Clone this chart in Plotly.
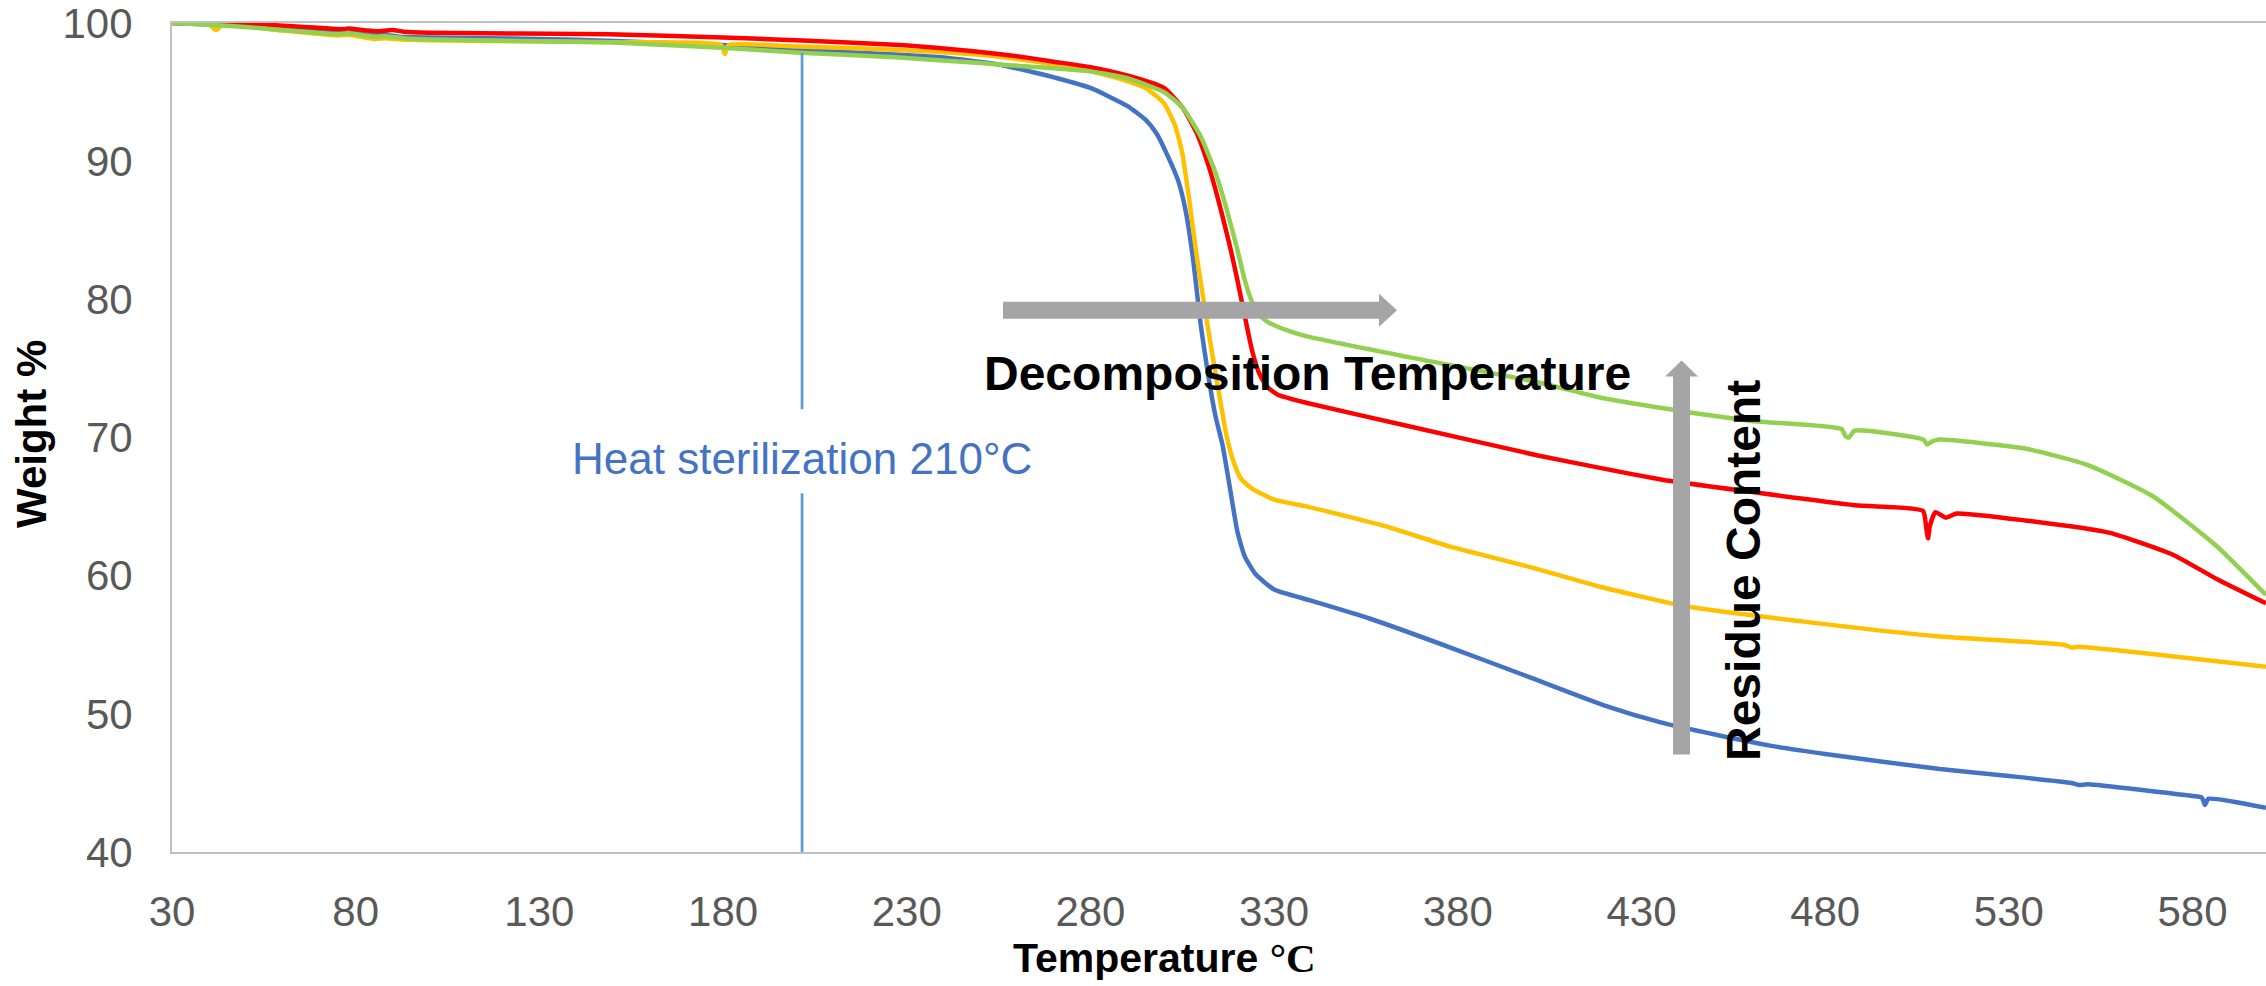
import plotly.graph_objects as go

# ---------------- data ----------------
blue_t = [30, 45, 60, 75, 80, 85, 88, 92, 100, 130, 150, 180, 201, 228, 240, 255, 265, 271, 280, 290,
          295, 298, 301, 304, 306, 308, 310, 312, 314, 316, 318, 320, 322, 325, 330, 340, 356, 380,
          400, 420, 435, 450, 465, 480, 511.2, 530, 547, 549, 551.6, 580, 582.5, 583.4, 584.3, 600]
blue_w = [100, 99.85, 99.6, 99.3, 99.25, 99.1, 99.15, 99.0, 98.95, 98.85, 98.7, 98.4, 98.05, 97.7, 97.5,
          97.0, 96.4, 96.0, 95.3, 94.0, 93.0, 92.0, 90.4, 88.5, 86.3, 82.8, 78.2, 74.6, 71.6, 69.4,
          66.3, 63.2, 61.4, 60.1, 59.0, 58.2, 56.9, 54.6, 52.6, 50.6, 49.4, 48.5, 47.7, 47.1, 46.0,
          45.5, 45.0, 44.85, 44.9, 44.05, 43.95, 43.4, 43.85, 43.2]

yellow_t = [30, 40, 42, 44, 60, 75, 78, 85, 88, 93, 100, 149, 179.5, 180.5, 181.5, 200, 228, 250, 260,
            270, 280, 290, 295, 300, 303, 305, 307, 309, 311, 313, 315, 317, 319, 321, 324, 330, 339,
            360, 378, 400, 418.7, 441.8, 476.4, 511.2, 545, 547, 549, 600]
yellow_w = [100, 99.9, 99.5, 99.9, 99.45, 99.1, 99.15, 98.85, 98.9, 98.8, 98.75, 98.6, 98.4, 97.75,
            98.4, 98.3, 98.05, 97.7, 97.4, 97.0, 96.5, 95.8, 95.3, 94.2, 92.6, 90.6, 87.0, 83.0, 79.6,
            76.3, 73.2, 70.2, 68.2, 67.0, 66.3, 65.5, 65.0, 63.6, 62.1, 60.6, 59.2, 57.8, 56.6, 55.6,
            55.0, 54.8, 54.85, 53.4]

red_t = [30, 50, 70, 76, 78, 83, 86, 90, 93, 100, 149, 180, 200, 228, 250, 260, 270, 280, 290, 300,
         305, 309, 312, 315, 318, 320, 322, 324, 326, 328, 331, 339, 367, 401.8, 418.7, 436.4,
         441.8, 488, 506.6, 507.5, 508, 508.5, 510, 512.8, 515.8, 534.4, 557.5, 574.8, 586.3, 600]
red_w = [100, 99.95, 99.65, 99.55, 99.6, 99.45, 99.4, 99.5, 99.37, 99.3, 99.18, 98.95, 98.75, 98.4,
         97.9, 97.6, 97.2, 96.8, 96.2, 95.3, 93.9, 92.0, 89.8, 87.0, 83.8, 81.4, 78.8, 76.3, 74.6,
         73.7, 73.1, 72.5, 70.8, 68.7, 67.8, 66.9, 66.7, 65.1, 64.7, 63.5, 62.7, 63.6, 64.6, 64.2,
         64.5, 64.0, 63.1, 61.5, 59.8, 58.0]

green_t = [30, 45, 60, 75, 78, 85, 88, 93, 100, 149, 180, 201, 228, 250, 260, 280, 290, 300, 305, 310,
           314, 317, 320, 322, 324, 326, 328, 333, 339.2, 367, 401.8, 418.7, 436.4, 460, 484.5, 485.5,
           486.5, 488, 506.8, 507.7, 509, 511, 534.4, 551.5, 568.9, 586.3, 600]
green_w = [100, 99.8, 99.5, 99.2, 99.25, 99.0, 99.05, 98.9, 98.8, 98.6, 98.2, 97.85, 97.5, 97.1, 96.9,
           96.5, 96.0, 95.0, 93.9, 91.8, 89.2, 86.6, 83.6, 81.4, 79.8, 78.9, 78.4, 77.8, 77.3, 75.8,
           74.0, 72.9, 72.1, 71.2, 70.6, 70.1, 70.0, 70.5, 69.85, 69.5, 69.7, 69.85, 69.2, 68.0, 65.8,
           62.2, 58.6]

x_ticks = [30, 80, 130, 180, 230, 280, 330, 380, 430, 480, 530, 580]
y_ticks = [40, 50, 60, 70, 80, 90, 100]

steril_x = 201.5
steril_top = 97.85
steril_gap = (65.97, 72.05)
steril_label_y = 68.45

# ---------------- layout constants ----------------
W, H = 2266, 986
PL, PR, PT, PB = 172, 2266, 23, 852
FONT = "Arial, Liberation Sans, sans-serif"

def px_x(px):
    return (px - PL) / (PR - PL)

def px_y(py):
    return (PB - py) / (PB - PT)

fig = go.Figure()
for t, w, c in [(blue_t, blue_w, "#4472C4"), (yellow_t, yellow_w, "#FFC000"),
                (red_t, red_w, "#FF0000"), (green_t, green_w, "#92D050")]:
    fig.add_trace(go.Scatter(x=t, y=w, mode="lines",
                             line=dict(color=c, width=4.5, shape="spline", smoothing=0.5),
                             showlegend=False, hoverinfo="skip"))

# heat sterilization line (split around the label)
for y0, y1 in [(40, steril_gap[0]), (steril_gap[1], steril_top)]:
    fig.add_shape(type="line", xref="x", yref="y", x0=steril_x, x1=steril_x, y0=y0, y1=y1,
                  line=dict(color="#5B9BD5", width=2.7))

# block arrows (pixel-sized paths anchored in data coordinates)
ARROW = "#A5A5A5"
fig.add_shape(type="path", xref="x", yref="y", xsizemode="pixel", ysizemode="pixel",
              xanchor=256.2, yanchor=79.21,
              path="M0,-8.5 L376,-8.5 L376,-16.5 L394,0 L376,16.5 L376,8.5 L0,8.5 Z",
              fillcolor=ARROW, line=dict(width=0))
fig.add_shape(type="path", xref="x", yref="y", xsizemode="pixel", ysizemode="pixel",
              xanchor=440.9, yanchor=47.06,
              path="M-8.5,0 L-8.5,378 L-16.5,378 L0,394 L16.5,378 L8.5,378 L8.5,0 Z",
              fillcolor=ARROW, line=dict(width=0))

ann = []
ann.append(dict(x=steril_x, y=steril_label_y, xref="x", yref="y", text="Heat sterilization 210°C",
                showarrow=False, xanchor="center", yanchor="middle",
                font=dict(family=FONT, size=44, color="#4472C4")))
ann.append(dict(x=339.2, y=74.6, xref="x", yref="y", text="<b>Decomposition Temperature</b>",
                showarrow=False, xanchor="center", yanchor="middle",
                font=dict(family=FONT, size=48, color="#000000")))
ann.append(dict(x=457.6, y=60.4, xref="x", yref="y", text="<b>Residue Content</b>", textangle=-90,
                showarrow=False, xanchor="center", yanchor="middle",
                font=dict(family=FONT, size=48, color="#000000")))
ann.append(dict(x=px_x(31), y=px_y(434), xref="paper", yref="paper", text="<b>Weight %</b>",
                textangle=-90, showarrow=False, xanchor="center", yanchor="middle",
                font=dict(family=FONT, size=42, color="#000000")))
ann.append(dict(x=px_x(1164), y=px_y(958), xref="paper", yref="paper",
                text='<b>Temperature <span style="font-family:Liberation Serif, Times New Roman, serif">°C</span></b>',
                showarrow=False, xanchor="center", yanchor="middle",
                font=dict(family=FONT, size=41, color="#000000")))

fig.update_layout(
    width=W, height=H,
    margin=dict(l=PL, r=W - PR, t=PT, b=H - PB, pad=0),
    paper_bgcolor="white", plot_bgcolor="white",
    annotations=ann,
    xaxis=dict(range=[30, 600], tickvals=x_ticks, ticktext=[str(v) for v in x_ticks],
               showgrid=False, zeroline=False, showline=True, linecolor="#C0C0C0", linewidth=2,
               mirror=True, ticks="", ticklabelstandoff=22, ticklabeloverflow="allow",
               tickfont=dict(family=FONT, size=42, color="#595959")),
    yaxis=dict(range=[40, 100.0001], tickvals=y_ticks, ticktext=[str(v) for v in y_ticks],
               showgrid=False, zeroline=False, ticklabeloverflow="allow",
               showline=True, linecolor="#C0C0C0", linewidth=2, ticks="", ticklabelstandoff=29,
               tickfont=dict(family=FONT, size=42, color="#595959")),
)

fig.write_html("out.html")
